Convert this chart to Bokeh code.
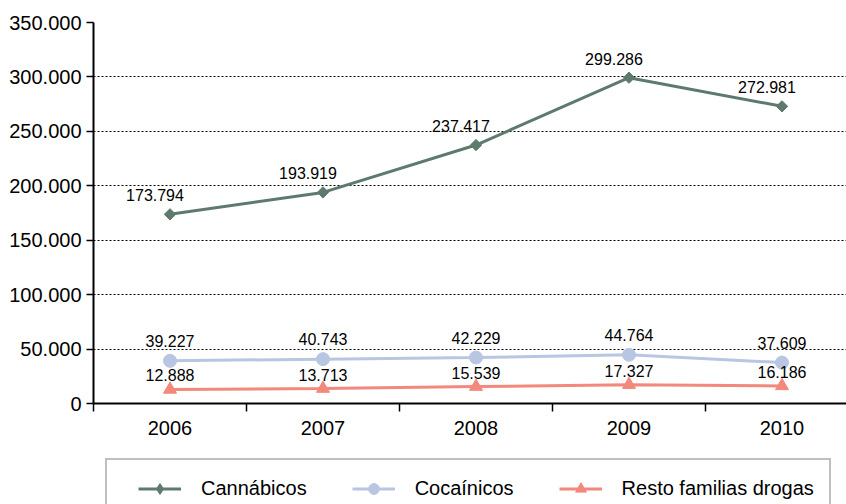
import numpy as np
from bokeh.plotting import figure
from bokeh.layouts import column
from bokeh.models import (Range1d, FixedTicker, Legend, LegendItem, Grid, ColumnDataSource)
from bokeh.core.properties import value
from bokeh.embed import file_html
from bokeh.resources import INLINE

# ---- data ----
years = [2006, 2007, 2008, 2009, 2010]
cannabicos = [173794, 193919, 237417, 299286, 272981]
cocainicos = [39227, 40743, 42229, 44764, 37609]
resto = [12888, 13713, 15539, 17327, 16186]
series_names = ["Cannábicos", "Cocaínicos", "Resto familias drogas"]
y_ticks = [0, 50000, 100000, 150000, 200000, 250000, 300000, 350000]
y_tick_labels = ["0", "50.000", "100.000", "150.000", "200.000", "250.000", "300.000", "350.000"]

def fmt(v):
    return f"{v:,}".replace(",", ".")

FONT = "Liberation Sans"
W, H_TOTAL, H_MAIN = 846, 504, 446

p = figure(width=W, height=H_MAIN, output_backend="svg", toolbar_location=None,
           x_range=Range1d(years[0] - 0.5, years[0] - 0.5 + 753 / 153),
           y_range=Range1d(0, 350000),
           min_border_left=93, min_border_right=0, min_border_top=22, min_border_bottom=H_MAIN - 403)
p.outline_line_color = None
p.background_fill_color = "white"
p.border_fill_color = "white"

# grids
p.xgrid.visible = False
p.ygrid.ticker = FixedTicker(ticks=y_ticks[1:-1])
p.ygrid.grid_line_color = "black"
p.ygrid.grid_line_dash = "2 2"
p.ygrid.grid_line_width = 1
top_grid = Grid(dimension=1, ticker=FixedTicker(ticks=[y_ticks[-1]]),
                grid_line_color="black", grid_line_width=2)
p.add_layout(top_grid)

# axes
p.yaxis.ticker = FixedTicker(ticks=y_ticks)
p.yaxis.major_label_overrides = {t: l for t, l in zip(y_ticks, y_tick_labels)}
p.yaxis.major_label_text_font = FONT
p.yaxis.major_label_text_font_size = "20px"
p.yaxis.major_label_text_color = "black"
p.yaxis.major_tick_out = 7
p.yaxis.major_tick_in = 0
p.yaxis.minor_tick_line_color = None
p.yaxis.major_label_standoff = 5
p.yaxis.axis_line_width = 2
p.yaxis.axis_line_color = "black"
p.yaxis.major_tick_line_color = "black"
p.yaxis.major_tick_line_width = 1.5

p.xaxis.ticker = FixedTicker(ticks=years, minor_ticks=[y - 0.5 for y in years])
p.xaxis.major_label_text_font = FONT
p.xaxis.major_label_text_font_size = "20px"
p.xaxis.major_label_text_color = "black"
p.xaxis.major_tick_out = 0
p.xaxis.major_tick_in = 0
p.xaxis.minor_tick_out = 8
p.xaxis.minor_tick_in = 0
p.xaxis.minor_tick_line_color = "black"
p.xaxis.minor_tick_line_width = 1.5
p.xaxis.major_label_standoff = 9
p.xaxis.axis_line_width = 2
p.xaxis.axis_line_color = "black"

colors = ["#5e7a6c", "#b9c6e2", "#f3887c"]
markers = ["square", "circle", "triangle"]
legend_markers = ["diamond", "circle", "triangle"]
angles = [np.pi / 4, 0, 0]
sizes = [8, 13, 13]
data = [cannabicos, cocainicos, resto]
offsets = [(-15, -19), (0, -20), (0, -14)]

# legend strip (separate figure below the chart, its frame clips the legend box)
p2 = figure(width=W, height=H_TOTAL - H_MAIN, output_backend="svg", toolbar_location=None,
            x_axis_type=None, y_axis_type=None, x_range=Range1d(0, 1), y_range=Range1d(0, 1),
            min_border_left=0, min_border_right=0, min_border_top=0, min_border_bottom=0)
p2.grid.visible = False
p2.outline_line_color = None
p2.background_fill_color = "white"
p2.border_fill_color = "white"

items = []
for name, vals, c, m, lm, a, s, (xo, yo) in zip(series_names, data, colors, markers, legend_markers,
                                                  angles, sizes, offsets):
    src = ColumnDataSource(dict(x=years, y=vals, lab=[fmt(v) for v in vals]))
    p.line("x", "y", source=src, line_color=c, line_width=3)
    p.scatter("x", "y", source=src, marker=m, angle=a, size=s, fill_color=c, line_color=c)
    p.text("x", "y", text="lab", source=src, x_offset=xo, y_offset=yo, text_align="center",
           text_baseline="middle", text_font=value(FONT), text_font_size="16px", text_color="black")
    # legend proxies (same data, outside the strip's visible range)
    l2 = p2.line("x", "y", source=src, line_color=c, line_width=3)
    s2 = p2.scatter("x", "y", source=src, marker=lm, size=s, fill_color=c, line_color=c)
    items.append(LegendItem(label=name, renderers=[l2, s2]))

legend = Legend(items=items, orientation="horizontal", location=(12, -15), margin=0,
                glyph_width=43, glyph_height=27, label_standoff=20, spacing=45, padding=15,
                label_text_font=FONT, label_text_font_size="20px", label_text_color="black",
                border_line_color="#808080", border_line_width=2, background_fill_color="white",
                background_fill_alpha=1.0,
                title=" ", title_location="left", title_text_font_size="1px", title_standoff=15)
p2.add_layout(legend, "center")

open("out.html", "w").write(file_html(column(p, p2, spacing=0), INLINE))
